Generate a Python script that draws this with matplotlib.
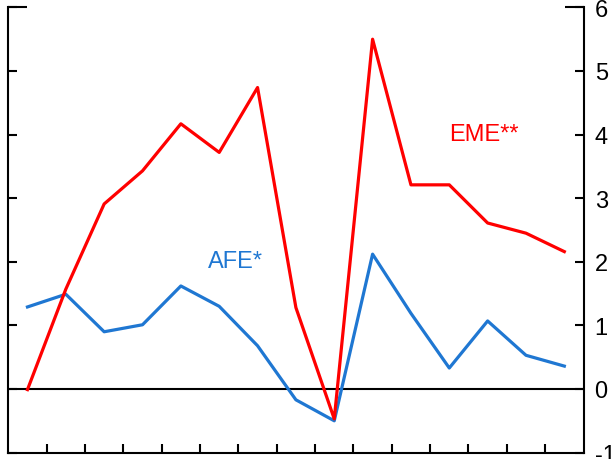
import matplotlib
matplotlib.use("Agg")
import matplotlib.pyplot as plt
import numpy as np

plt.rcParams['font.family'] = ['Liberation Sans', 'DejaVu Sans']

periods = list(range(15))
eme = [-0.01, 1.57, 2.91, 3.43, 4.17, 3.72, 4.74, 1.28, -0.47, 5.50, 3.21, 3.21, 2.61, 2.45, 2.16]
afe = [1.29, 1.49, 0.90, 1.01, 1.62, 1.30, 0.68, -0.17, -0.50, 2.12, 1.19, 0.33, 1.07, 0.53, 0.36]
yticks = [-1, 0, 1, 2, 3, 4, 5, 6]
ytick_labels = ['-1', '0', '1', '2', '3', '4', '5', '6']

red = '#ff0000'
blue = '#1f77d2'

fig = plt.figure(figsize=(6.12, 4.60), dpi=100)
ax = fig.add_axes([8.3/612, (460-453.6)/460, (583.5-8.3)/612, (453.6-8.4)/460])

ax.axhline(0, color='black', lw=1.5, zorder=1)
ax.plot(periods, afe, color=blue, lw=2.3, zorder=3)
ax.plot(periods, eme, color=red, lw=2.3, zorder=4)

ax.set_xlim(-0.5, 14.5)
ax.set_ylim(-1, 6)
ax.set_xticks(np.arange(0.5, 14, 1.0))
ax.set_xticklabels([])
ax.set_yticks(yticks)
ax.set_yticklabels(ytick_labels)

ax.spines['top'].set_visible(False)
for s in ['left', 'right', 'bottom']:
    ax.spines[s].set_linewidth(1.5)

ax.tick_params(axis='x', direction='in', length=6.5, width=1.5, bottom=True, top=False)
ax.tick_params(axis='y', direction='in', length=6.5, width=1.5, left=True, right=True,
               labelleft=False, labelright=True, labelsize=17, pad=8)

# longer top tick marks at 6
ax.plot([0, 0.033], [1, 1], transform=ax.transAxes, color='black', lw=1.5, clip_on=False,
        solid_capstyle='butt')
ax.plot([1 - 0.032, 1], [1, 1], transform=ax.transAxes, color='black', lw=1.5, clip_on=False,
        solid_capstyle='butt')

ax.text(5.43, 2.01, 'AFE*', color=blue, fontsize=17, ha='center', va='center')
ax.text(11.89, 4.01, 'EME**', color=red, fontsize=17, ha='center', va='center')

fig.savefig('out.png', dpi=100)
